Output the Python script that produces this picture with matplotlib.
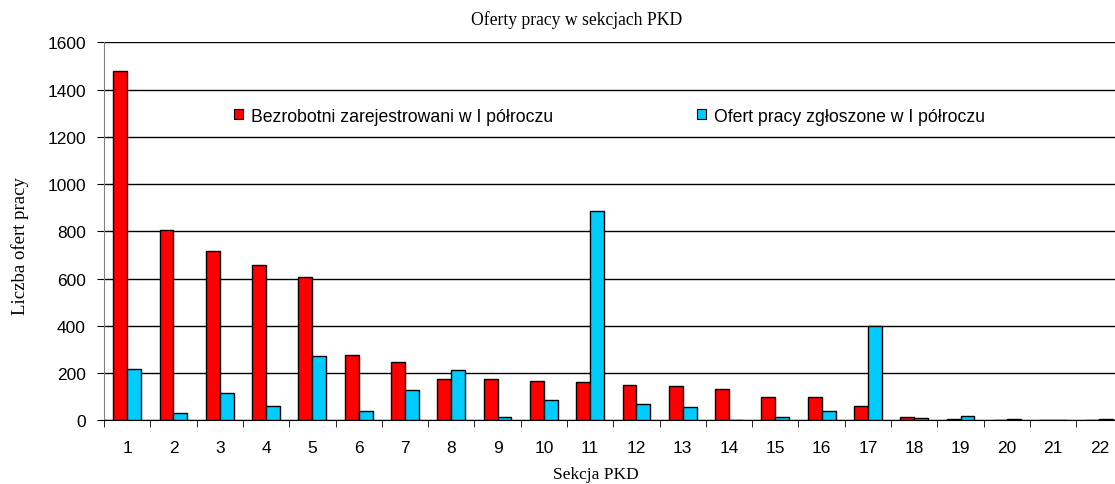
import numpy as np
import matplotlib
matplotlib.use("Agg")
import matplotlib.pyplot as plt
from matplotlib.patches import Patch

sekcje = [str(i) for i in range(1, 23)]
bezrobotni = [1480, 805, 715, 658, 605, 276, 247, 173, 173, 168, 162,
              151, 145, 134, 99, 99, 59, 13, 5, 0, 0, 0]
oferty = [219, 30, 115, 59, 271, 41, 128, 214, 13, 87, 884,
          69, 58, 0, 13, 41, 398, 8, 17, 6, 0, 6]

W, H = 1115, 485
fig = plt.figure(figsize=(W / 100, H / 100), dpi=100)
ax = fig.add_axes([104 / W, (H - 421.3) / H, (1122.6 - 104) / W, (421.3 - 43.3) / H])

x = np.arange(len(sekcje))
bw = 0.3
ax.bar(x - bw / 2, bezrobotni, bw, color='#FF0000', edgecolor='black', linewidth=1, zorder=3)
ax.bar(x + bw / 2, oferty, bw, color='#00CCFF', edgecolor='black', linewidth=1, zorder=3)

ax.set_xlim(-0.5, len(sekcje) - 0.5)
ax.set_ylim(0, 1600)
ax.set_yticks(np.arange(0, 1601, 200))
ax.yaxis.grid(True, color='black', linewidth=1, zorder=0)
ax.set_xticks(x)
ax.set_xticklabels(sekcje, fontfamily='Liberation Sans', fontsize=12.5)
ax.set_xticks(np.arange(-0.5, len(sekcje)), minor=True)
ax.tick_params(axis='x', which='major', length=0, pad=14)
ax.tick_params(axis='x', which='minor', length=5, color='black', direction='out')
ax.tick_params(axis='y', length=5, color='black', labelsize=12.5, pad=8)
for lab in ax.get_yticklabels():
    lab.set_fontfamily('Liberation Sans')
for s in ['top', 'right']:
    ax.spines[s].set_visible(False)
ax.spines['left'].set_color('#808080')
ax.spines['bottom'].set_color('black')

fig.text(577 / W, 1 - 20 / H, 'Oferty pracy w sekcjach PKD', ha='center', va='center',
         fontfamily='Liberation Serif', fontsize=12.7)
fig.text(596 / W, 1 - 475 / H, 'Sekcja PKD', ha='center', va='center',
         fontfamily='Liberation Serif', fontsize=12.5)
fig.text(20 / W, 1 - 246 / H, 'Liczba ofert pracy', ha='center', va='center', rotation=90,
         fontfamily='Liberation Serif', fontsize=13.5)

leg_kw = dict(frameon=False, handlelength=0.5, handleheight=0.5, handletextpad=0.5,
              prop={'family': 'Liberation Sans', 'size': 12.7}, loc='center left', borderpad=0)
h1 = Patch(facecolor='#FF0000', edgecolor='black', linewidth=0.8)
h2 = Patch(facecolor='#00CCFF', edgecolor='black', linewidth=0.8)
l1 = fig.legend([h1], ['Bezrobotni zarejestrowani w I półroczu'],
                bbox_to_anchor=(225 / W, 1 - 117 / H), **leg_kw)
l2 = fig.legend([h2], ['Ofert pracy zgłoszone w I półroczu'],
                bbox_to_anchor=(688 / W, 1 - 117 / H), **leg_kw)

fig.savefig('out.png', dpi=100)
